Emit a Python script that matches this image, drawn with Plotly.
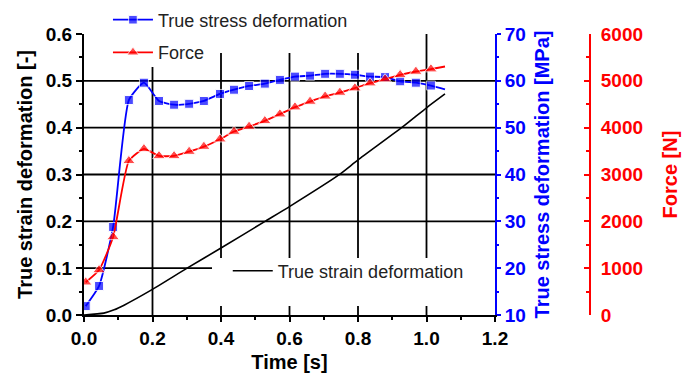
import plotly.graph_objects as go

# Sampled time instants of the marked measurements [s]
time_s = [0.005, 0.044, 0.085, 0.131, 0.175, 0.219, 0.263, 0.307, 0.350, 0.397,
          0.438, 0.482, 0.528, 0.572, 0.616, 0.660, 0.704, 0.747, 0.791, 0.835,
          0.879, 0.923, 0.969, 1.013]
stress_mpa = [11.9, 16.2, 28.8, 55.9, 59.6, 55.7, 54.9, 55.1, 55.7, 57.2,
              58.1, 58.9, 59.4, 60.2, 60.9, 61.1, 61.5, 61.5, 61.3, 60.9,
              60.8, 59.9, 59.6, 59.0]
force_n = [700, 962, 1667, 3291, 3547, 3397, 3397, 3489, 3596, 3754,
           3917, 4024, 4145, 4288, 4438, 4558, 4669, 4750, 4844, 4951,
           5036, 5128, 5199, 5250]
# Final recorded sample (line continues past last marker)
end_time_s = 1.054
end_stress_mpa = 58.2
end_force_n = 5306

# True strain curve
strain_time_s = [0.0, 0.058, 0.088, 0.117, 0.196, 0.301, 0.400, 0.531, 0.601,
                 0.742, 0.800, 0.931, 1.001, 1.054]
strain = [0.0, 0.004, 0.011, 0.021, 0.053, 0.100, 0.143, 0.201, 0.232,
          0.298, 0.331, 0.402, 0.443, 0.472]

x_ticks = [0.0, 0.2, 0.4, 0.6, 0.8, 1.0, 1.2]
strain_ticks = [0.0, 0.1, 0.2, 0.3, 0.4, 0.5, 0.6]
x_grid = [0.2, 0.4, 0.6, 0.8, 1.0]
y_grid = [0.1, 0.2, 0.3, 0.4, 0.5]

BLUE = "#0000ff"
RED = "#ff0000"
FONT = "Liberation Sans, Arial, sans-serif"

t_blue = time_s + [end_time_s]
v_blue = stress_mpa + [end_stress_mpa]
t_red = time_s + [end_time_s]
v_red = force_n + [end_force_n]
square_sizes = [9] * len(time_s) + [0]
triangle_sizes = [11] * len(time_s) + [0]

fig = go.Figure()

fig.add_trace(go.Scatter(
    x=strain_time_s, y=strain, mode="lines", name="True strain deformation",
    line=dict(color="black", width=1.6, shape="spline", smoothing=0.6),
    legend="legend3", yaxis="y"))

fig.add_trace(go.Scatter(
    x=t_blue, y=v_blue, mode="lines+markers", name="True stress deformation",
    line=dict(color=BLUE, width=1.8, shape="spline", smoothing=0.5),
    marker=dict(symbol="square", size=square_sizes, color=BLUE),
    legend="legend", yaxis="y2"))

fig.add_trace(go.Scatter(
    x=t_red, y=v_red, mode="lines+markers", name="Force",
    line=dict(color=RED, width=1.8, shape="spline", smoothing=0.5),
    marker=dict(symbol="triangle-up", size=triangle_sizes, color=RED),
    legend="legend2", yaxis="y3"))

shapes = []
for gx in x_grid:
    shapes.append(dict(type="line", xref="x", yref="paper", x0=gx, x1=gx, y0=0, y1=1,
                       line=dict(color="black", width=1.8), layer="below"))
for gy in y_grid:
    shapes.append(dict(type="line", xref="x domain", yref="y", x0=0, x1=1, y0=gy, y1=gy,
                       line=dict(color="black", width=1.8), layer="below"))
# white backgrounds behind the legend entries
for bx0, bx1, by0, by1 in [(0.0267, 0.474, 0.9324, 1.114),
                           (0.0267, 0.2204, 0.8826, 0.9786),
                           (0.2137, 0.6861, 0.032, 0.2028)]:
    shapes.append(dict(type="rect", xref="paper", yref="paper", x0=bx0, x1=bx1,
                       y0=by0, y1=by1, fillcolor="white", line=dict(width=0),
                       layer="below"))

tick_font = dict(family=FONT, size=19, weight="bold")
title_font = dict(family=FONT, size=20, weight="bold")
legend_common = dict(bgcolor="rgba(0,0,0,0)", font=dict(family=FONT, size=18, color="#222"),
                     xanchor="left", yanchor="middle", itemwidth=40,
                     borderwidth=0, visible=True)

fig.update_layout(
    width=683, height=376,
    margin=dict(l=84, r=0, t=34, b=61, autoexpand=False),
    paper_bgcolor="white", plot_bgcolor="white",
    showlegend=True,
    shapes=shapes,
    xaxis=dict(domain=[0, 0.68614], range=[0, 1.2], tickvals=x_ticks, automargin=False,
               ticktext=[f"{v:.1f}" for v in x_ticks],
               showgrid=False, zeroline=False, showline=True, linecolor="black",
               linewidth=2, ticks="outside", ticklen=5, tickwidth=2, tickcolor="black",
               minor=dict(dtick=0.1, ticks="outside", ticklen=3, tickwidth=1.5,
                          tickcolor="black"),
               tickfont=dict(tick_font, color="black"),
               title=dict(text="Time [s]", font=dict(title_font, color="black"), standoff=7)),
    yaxis=dict(range=[0, 0.6], tickvals=strain_ticks, automargin=False,
               ticktext=[f"{v:.1f}" for v in strain_ticks],
               showgrid=False, zeroline=False, showline=True, linecolor="black",
               linewidth=2, ticks="outside", ticklen=6, tickwidth=2, tickcolor="black",
               minor=dict(dtick=0.05, ticks="outside", ticklen=3, tickwidth=1.5,
                          tickcolor="black"),
               tickfont=dict(tick_font, color="black"),
               title=dict(text="True strain deformation [-]",
                          font=dict(title_font, color="black"), standoff=8)),
    yaxis2=dict(overlaying="y", side="right", anchor="x", range=[10, 70], dtick=10,
                automargin=False,
                showgrid=False, zeroline=False, showline=True, linecolor=BLUE,
                linewidth=2, ticks="outside", ticklen=4, tickwidth=2, tickcolor=BLUE,
                minor=dict(dtick=5, ticks="outside", ticklen=2, tickwidth=1.5,
                           tickcolor=BLUE),
                tickfont=dict(tick_font, color=BLUE),
                title=dict(text="True stress deformation [MPa]",
                           font=dict(title_font, color=BLUE), standoff=10)),
    yaxis3=dict(overlaying="y", side="right", anchor="free", position=0.84474,
                range=[0, 6000], dtick=1000, automargin=False,
                showgrid=False, zeroline=False, showline=True, linecolor=RED,
                linewidth=2, ticks="inside", ticklen=5, tickwidth=2, tickcolor=RED,
                minor=dict(dtick=500, ticks="inside", ticklen=3, tickwidth=1.5,
                           tickcolor=RED),
                tickfont=dict(tick_font, color=RED), ticklabelstandoff=6,
                title=dict(text="Force [N]", font=dict(title_font, color=RED), standoff=20)),
    legend=dict(legend_common, x=0.04, y=1.0498),
    legend2=dict(legend_common, x=0.04, y=0.9335),
    legend3=dict(legend_common, x=0.24, y=0.1566),
)

fig.write_html("out.html")
